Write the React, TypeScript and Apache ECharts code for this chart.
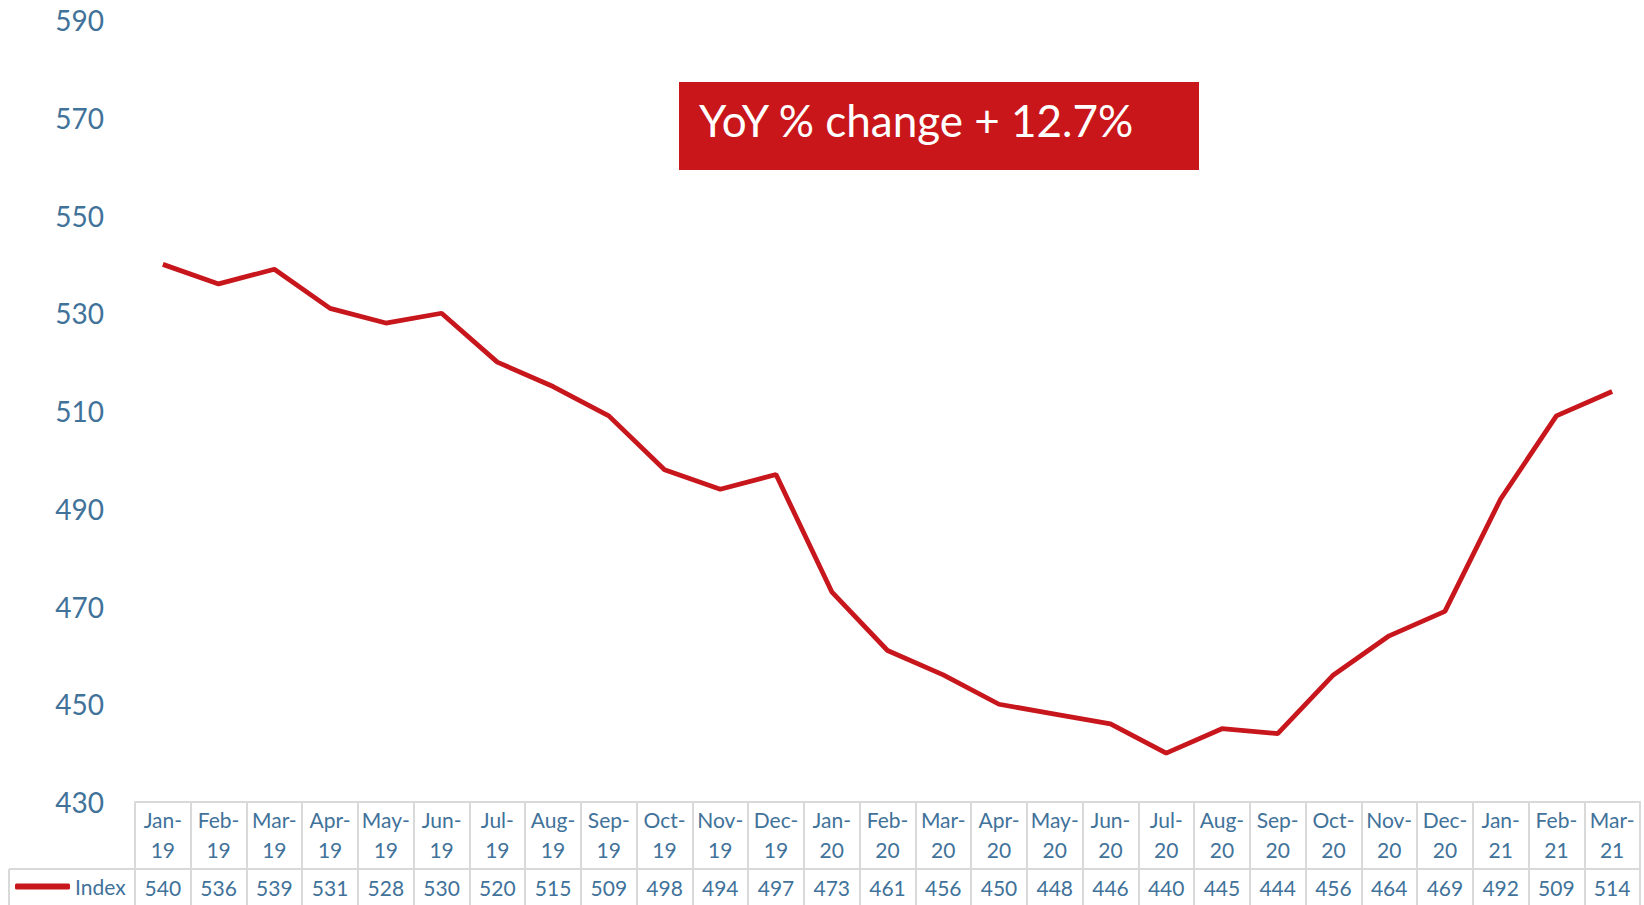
import React, { useEffect, useRef } from "react";
import * as echarts from "echarts";

const months = [
  "Jan-19", "Feb-19", "Mar-19", "Apr-19", "May-19", "Jun-19", "Jul-19", "Aug-19", "Sep-19",
  "Oct-19", "Nov-19", "Dec-19", "Jan-20", "Feb-20", "Mar-20", "Apr-20", "May-20", "Jun-20",
  "Jul-20", "Aug-20", "Sep-20", "Oct-20", "Nov-20", "Dec-20", "Jan-21", "Feb-21", "Mar-21",
];
const indexValues = [
  540, 536, 539, 531, 528, 530, 520, 515, 509, 498, 494, 497, 473, 461, 456, 450, 448, 446,
  440, 445, 444, 456, 464, 469, 492, 509, 514,
];
const seriesName = "Index";
const annotationText = "YoY % change + 12.7%";
const yMin = 430;
const yMax = 590;
const yStep = 20;

const BLUE = "#41729A";
const RED = "#C8161D";
const GRIDC = "#D9D9D9";
const FONT = "Lato, 'Open Sans', sans-serif";

export default function App() {
  const ref = useRef<HTMLDivElement>(null);
  useEffect(() => {
    if (!ref.current) return;
    const chart = echarts.init(ref.current, null, { renderer: "svg" });
    chart.setOption({
      animation: false,
      backgroundColor: "#ffffff",
      textStyle: { fontFamily: FONT },
      grid: { left: 135, right: 4, top: 20, bottom: 103, containLabel: false },
      legend: {
        data: [{ name: seriesName, icon: "roundRect" }],
        left: 15,
        top: 876,
        padding: 0,
        itemWidth: 55,
        itemHeight: 6,
        textStyle: { fontSize: 21, color: BLUE, fontFamily: FONT },
      },
      yAxis: {
        type: "value",
        min: yMin,
        max: yMax,
        interval: yStep,
        axisLine: { show: false },
        axisTick: { show: false },
        splitLine: { show: false },
        axisLabel: { fontSize: 28, color: BLUE, margin: 31, fontFamily: FONT },
      },
      xAxis: [
        {
          type: "category",
          data: months,
          boundaryGap: true,
          position: "bottom",
          axisLine: { show: true, lineStyle: { color: GRIDC, width: 2 } },
          axisTick: {
            show: true,
            interval: 0,
            length: 103,
            lineStyle: { color: GRIDC, width: 2 },
          },
          axisLabel: {
            interval: 0,
            fontSize: 21,
            lineHeight: 30,
            margin: 2,
            color: BLUE,
            fontFamily: FONT,
            formatter: (v: string) => v.replace("-", "-\n"),
          },
        },
        {
          type: "category",
          data: indexValues.map((v) => String(v)),
          boundaryGap: true,
          position: "bottom",
          offset: 67,
          axisLine: { show: true, lineStyle: { color: GRIDC, width: 2 } },
          axisTick: { show: false },
          axisLabel: {
            interval: 0,
            fontSize: 21,
            lineHeight: 30,
            margin: 3,
            color: BLUE,
            fontFamily: FONT,
          },
        },
      ],
      series: [
        {
          name: seriesName,
          type: "line",
          xAxisIndex: 0,
          data: indexValues,
          symbol: "none",
          color: RED,
          lineStyle: { color: RED, width: 4.8 },
        },
      ],
      graphic: [
        {
          type: "line",
          shape: { x1: 9, y1: 869, x2: 135, y2: 869 },
          style: { stroke: GRIDC, lineWidth: 2 },
        },
        {
          type: "line",
          shape: { x1: 9, y1: 869, x2: 9, y2: 905 },
          style: { stroke: GRIDC, lineWidth: 2 },
        },
        {
          type: "rect",
          shape: { x: 679, y: 82, width: 520, height: 88 },
          style: { fill: "#C9161A" },
        },
        {
          type: "text",
          x: 699,
          y: 120,
          style: {
            text: annotationText,
            fill: "#ffffff",
            fontSize: 44,
            fontFamily: FONT,
            verticalAlign: "middle",
            align: "left",
          },
        },
      ],
    });
    return () => chart.dispose();
  }, []);
  return (
    <div
      ref={ref}
      style={{ position: "fixed", left: 0, top: 0, width: 1644, height: 905 }}
    />
  );
}
